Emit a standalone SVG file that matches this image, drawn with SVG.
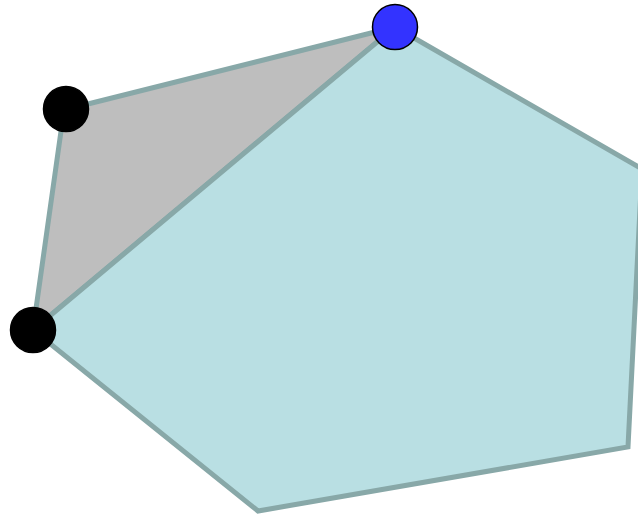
<svg xmlns="http://www.w3.org/2000/svg" width="638" height="516" viewBox="0 0 638 516">
<style>
.poly{stroke:#88a8a8;stroke-width:5;stroke-linejoin:miter}
.node{stroke:#000;stroke-width:1.5}
</style>
<rect width="638" height="516" fill="#fff"/>
<g id="connectors">
<polygon class="poly" fill="#bebebe" points="64,110 395,27 33,330"/>
<polygon class="poly" fill="#b9dfe3" points="395,27 642,169 628,447 258,511 33,330"/>
</g>
<g id="n1"><circle class="node" cx="66" cy="109" r="22.5" fill="#000"/></g>
<g id="n2"><circle class="node" cx="33" cy="330" r="22.5" fill="#000"/></g>
<g id="n3"><circle class="node" cx="395" cy="27" r="22.5" fill="#3333ff"/></g>
</svg>
